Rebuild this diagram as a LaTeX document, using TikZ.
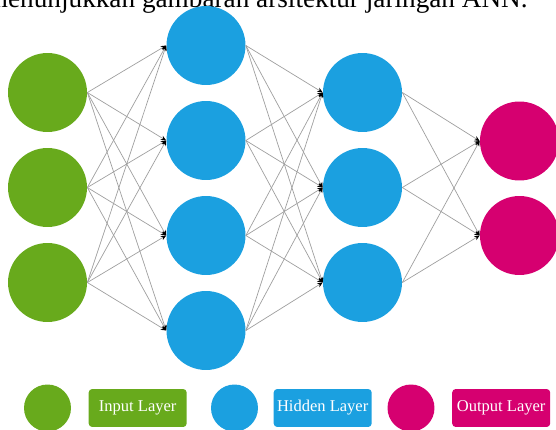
\documentclass[tikz,border=0pt]{standalone}
\usepackage{fontspec}
\setmainfont{Liberation Serif}
\usetikzlibrary{arrows.meta}
\usetikzlibrary{positioning}
\definecolor{inputGreen}{RGB}{104, 170, 28}
\definecolor{hiddenBlue}{RGB}{27, 160, 224}
\definecolor{outputMagenta}{RGB}{214, 0, 112}

\begin{document}
\begin{tikzpicture}[x=0.02cm, y=-0.02cm,
    neuron/.style={circle, inner sep=0pt, minimum size=1.58cm},
    link/.style={draw=gray!75, line width=0.4pt,
                 -{Stealth[length=3pt, width=2.6pt, color=black]}},
    legdot/.style={circle, inner sep=0pt, minimum size=0.94cm},
    legbox/.style={rounded corners=2pt, inner sep=0pt, minimum width=1.96cm,
                   minimum height=0.76cm, text=white,
                   font=\fontsize{9.4}{11}\selectfont}]
      \useasboundingbox (0,0) rectangle (556,430);

      % caption line cut by the page edge
      \node [anchor=base east, inner sep=0pt,
             font=\fontsize{15.5}{17}\selectfont] (caption) at (528,7.5)
            {menunjukkan gambaran arsitektur jaringan ANN.};

      % layers
      \foreach \i/\y in {1/92.5, 2/187.5, 3/282.5}
        \node [neuron, fill=inputGreen] (in\i) at (47.5,\y) {};
      \foreach \i/\y in {1/45.5, 2/140.5, 3/235.5, 4/330.5}
        \node [neuron, fill=hiddenBlue] (hidA\i) at (206,\y) {};
      \foreach \i/\y in {1/92.5, 2/187.5, 3/282.5}
        \node [neuron, fill=hiddenBlue] (hidB\i) at (362.5,\y) {};
      \foreach \i/\y in {1/141, 2/235.5}
        \node [neuron, fill=outputMagenta] (out\i) at (519.5,\y) {};

      % connections
      \foreach \i in {1,2,3}
        \foreach \j in {1,...,4}
          \draw [link] (in\i.east) -- (hidA\j.west);
      \foreach \i in {1,...,4}
        \foreach \j in {1,2,3}
          \draw [link] (hidA\i.east) -- (hidB\j.west);
      \foreach \i in {1,2,3}
        \foreach \j in {1,2}
          \draw [link] (hidB\i.east) -- (out\j.west);

      % legend
      \node [legdot, fill=inputGreen] (legIn) at (47.5,408) {};
      \node [legbox, fill=inputGreen, right=0.34cm of legIn] (boxIn)
            {Input Layer};
      \node [legdot, fill=hiddenBlue] (legHid) at (234.5,408) {};
      \node [legbox, fill=hiddenBlue, right=0.3cm of legHid] (boxHid)
            {Hidden Layer};
      \node [legdot, fill=outputMagenta] (legOut) at (411,408) {};
      \node [legbox, fill=outputMagenta, right=0.34cm of legOut] (boxOut)
            {Output Layer};
    \end{tikzpicture}
\end{document}
